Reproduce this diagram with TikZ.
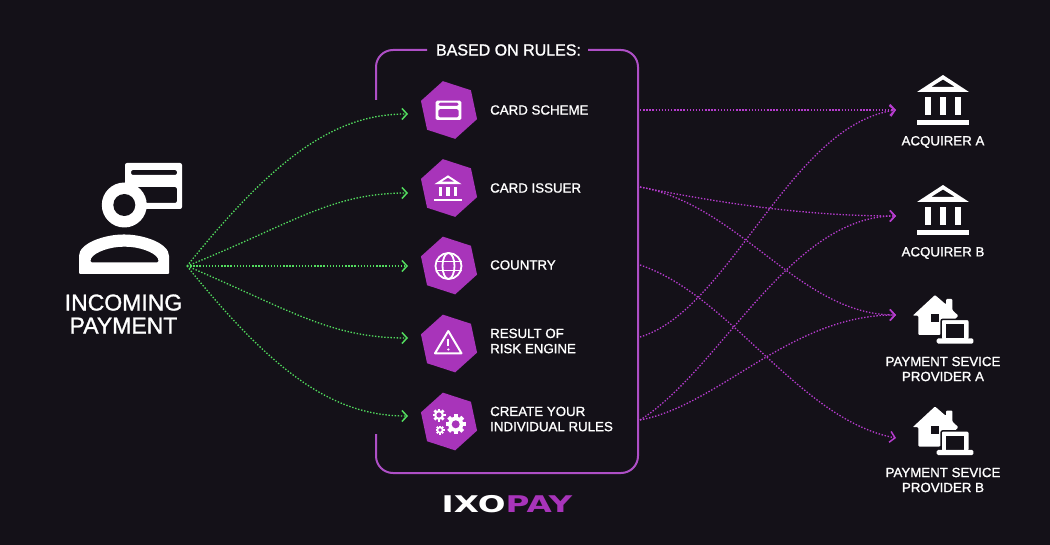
\documentclass[tikz,border=0pt]{standalone}
\usepackage{fontspec}
\setmainfont{Liberation Sans}[FakeBold=1.2]
\newfontfamily\logofont{DejaVu Sans Bold}
\usetikzlibrary{arrows.meta,shapes.geometric}
\definecolor{pagebg}{HTML}{141118}
\definecolor{rulepurple}{HTML}{A834BA}
\definecolor{boxpurple}{HTML}{AE4FC6}
\definecolor{linkgreen}{HTML}{52DC5E}
\definecolor{linkpurple}{HTML}{B63CCE}
\tikzset{%
    hexcell/.style={
      regular polygon,
      regular polygon sides=6,
      shape border rotate=-18,
      fill=rulepurple,
      inner sep=0pt,
      minimum size=59pt
    },
    rulelabel/.style={
      anchor=west,
      align=left,
      inner sep=0pt,
      text=white,
      font=\fontsize{13.3}{15.2}\selectfont
    },
    targetlabel/.style={
      align=center,
      text=white,
      font=\fontsize{13.3}{15}\selectfont
    },
    greenlink/.style={
      ->,
      draw=linkgreen,
      line width=1.3pt,
      dash pattern=on 1.4pt off 1.7pt
    },
    purplelink/.style={
      ->,
      draw=linkpurple,
      line width=1.3pt,
      dash pattern=on 1.4pt off 1.7pt
    },
    boxline/.style={
      draw=boxpurple,
      line width=2pt,
      rounded corners=17pt
    },
    bankicon/.pic={
      \fill[white, even odd rule] (-26,-8) -- (0,-25) -- (26,-8) -- cycle
        (-12,-13) -- (12,-13) -- (0,-20.5) -- cycle;
      \fill[white] (-18,-3) rectangle (-12,15);
      \fill[white] (-3,-3) rectangle (3,15);
      \fill[white] (12,-3) rectangle (18,15);
      \fill[white] (-26,20) rectangle (26,25);
    },
    serviceicon/.pic={
      \fill[white, rounded corners=1pt] (-8,-25) -- (3,-15.5) -- (3,-21) -- (9.3,-21) -- (9.3,-10) -- (15.3,-4.3)
        -- (-3,15) -- (-24.7,15) -- (-24.7,-4.3) -- (-30.3,-4.3) -- cycle;
      \fill[pagebg] (-12,-5.7) rectangle (-3.7,2.3);
      \fill[white, draw=pagebg, line width=1.5pt, rounded corners=2pt] (-2,-0.7) rectangle (26.3,20);
      \fill[pagebg] (3,4.3) rectangle (21.3,18);
      \fill[white, rounded corners=1.5pt] (-6.3,18.3) rectangle (30.3,23.7);
    },
    gearicon/.pic={
      \fill[white] (0,0) circle [radius=.76];
      \foreach \a in {0,45,90,135}
        \fill[white, rotate=\a] (-.2,-1) rectangle (.2,1);
      \fill[rulepurple] (0,0) circle [radius=.4];
    }
}
\begin{document}
\begin{tikzpicture}[x=1pt, y=-1pt, >={Straight Barb[length=5pt,width=11pt,line width=1.5pt]}]
      \useasboundingbox (0,0) rectangle (1050,545);
      \fill[pagebg] (0,0) rectangle (1050,545);

      \node [hexcell] (scheme) at (449,110) {};
      \node [hexcell] (issuer) at (449,188) {};
      \node [hexcell] (country) at (449,265.5) {};
      \node [hexcell] (risk) at (449,343.5) {};
      \node [hexcell] (create) at (449,421.5) {};

      \node [rulelabel] (schemetxt) at (490,110) {CARD SCHEME};
      \node [rulelabel] (issuertxt) at (490,188) {CARD ISSUER};
      \node [rulelabel] (countrytxt) at (490,265) {COUNTRY};
      \node [rulelabel] (risktxt) at (490,341) {RESULT OF\\RISK ENGINE};
      \node [rulelabel] (createtxt) at (490,419) {CREATE YOUR\\INDIVIDUAL RULES};

      \node [text=white, font=\fontsize{16}{18}\selectfont] (title) at (508.5,50) {BASED ON RULES:};
      \node [align=center, text=white, font=\fontsize{23}{23}\selectfont] (incoming) at (123.5,314) {INCOMING\\PAYMENT};
      \node [font=\logofont\fontsize{23}{23}\selectfont, xscale=1.42, text=white] (logo) at (507,504) {IXO\textcolor{rulepurple}{PAY}};

      \node [targetlabel] (acqa) at (943,142) {ACQUIRER A};
      \node [targetlabel] (acqb) at (943,253) {ACQUIRER B};
      \node [targetlabel] (pspa) at (943,369) {PAYMENT SEVICE\\PROVIDER A};
      \node [targetlabel] (pspb) at (943,480) {PAYMENT SEVICE\\PROVIDER B};

      \draw [boxline] (376,100) -- (376,50) -- (427,50);
      \draw [boxline] (588,50) -- (638,50) -- (638,473) -- (376,473) -- (376,434);

      \coordinate (src) at (187,266);
      \coordinate (in1) at (408,114);
      \coordinate (in2) at (408,193);
      \coordinate (in3) at (408,266);
      \coordinate (in4) at (408,338);
      \coordinate (in5) at (408,416);

      \draw [greenlink] (src) .. controls (280,150) and (340,114) .. (in1);
      \draw [greenlink] (src) .. controls (290,225) and (330,193) .. (in2);
      \draw [greenlink] (src) -- (in3);
      \draw [greenlink] (src) .. controls (290,310) and (330,338) .. (in4);
      \draw [greenlink] (src) .. controls (280,382) and (340,416) .. (in5);

      \coordinate (out1) at (640,110);
      \coordinate (out2) at (640,187);
      \coordinate (out3) at (640,265);
      \coordinate (out4) at (640,337);
      \coordinate (out5) at (640,420);
      \coordinate (toacqa) at (896,110);
      \coordinate (toacqb) at (896,216);
      \coordinate (topspa) at (896,315);
      \coordinate (topspb) at (896,438);

      \draw [purplelink] (out1) -- (toacqa);
      \draw [purplelink] (out2) .. controls (730,205) and (810,216) .. (toacqb);
      \draw [purplelink] (out2) .. controls (740,205) and (800,315) .. (topspa);
      \draw [purplelink] (out3) .. controls (730,295) and (800,420) .. (topspb);
      \draw [purplelink] (out4) .. controls (730,310) and (790,125) .. (toacqa);
      \draw [purplelink] (out5) .. controls (720,370) and (790,216) .. (toacqb);
      \draw [purplelink] (out5) .. controls (720,405) and (790,315) .. (topspa);

      \pic at (943,100) {bankicon};
      \pic at (943,210) {bankicon};
      \pic at (943,320) {serviceicon};
      \pic at (943,431.5) {serviceicon};
      \pic [scale=.52] at (448,188.3) {bankicon};

      \fill[white, rounded corners=2pt, even odd rule] (125,163) rectangle (182,209)
        (131,170) rectangle (177,175) (131,187) rectangle (177,203);
      \fill[white] (124.3,205) circle [radius=22.5];
      \fill[pagebg] (124.3,205) circle [radius=11];
      \fill[white, even odd rule, rounded corners=1pt] (79,274) -- (79,257) .. controls (79,243) and (105,234.5) .. (124,234.5)
        .. controls (143,234.5) and (169,243) .. (169,257) -- (169,274) -- cycle
        (90.7,262.3) -- (90.7,259) .. controls (95,252) and (110,246.7) .. (124.5,246.7)
        .. controls (139,246.7) and (154,252) .. (158.3,259) -- (158.3,262.3) -- cycle;

      \fill[white, rounded corners=1.5pt, even odd rule] (435.7,100.7) rectangle (461.3,120)
        (438.3,102.7) rectangle (458.7,106) (438.3,109) rectangle (458.7,117.5);

      \draw[white, line width=1.8pt] (448.5,266) circle [radius=13];
      \draw[white, line width=1.8pt] (448.5,266) ellipse [x radius=6, y radius=13];
      \draw[white, line width=1.8pt] (435.5,261.5) -- (461.5,261.5);
      \draw[white, line width=1.8pt] (435.5,270.5) -- (461.5,270.5);

      \draw[white, line width=2pt, line join=round] (448.3,331) -- (461.5,353.3) -- (435,353.3) -- cycle;
      \draw[white, line width=2pt] (448.3,339) -- (448.3,346);
      \fill[white] (448.3,349.5) circle [radius=1.2];

      \pic [scale=10] at (455.7,424.3) {gearicon};
      \pic [scale=6.5] at (439,415) {gearicon};
      \pic [scale=4.5] at (440,430) {gearicon};
\end{tikzpicture}
\end{document}
